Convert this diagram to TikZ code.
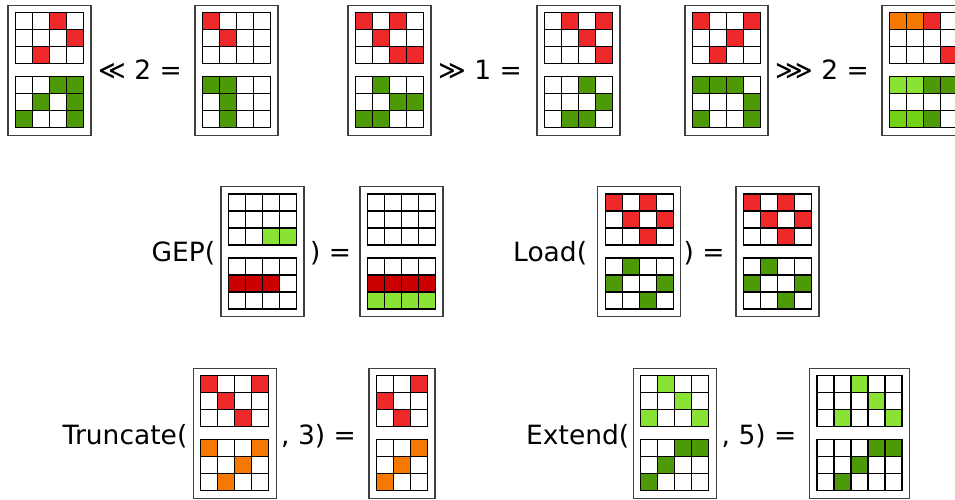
\documentclass[tikz,border=0pt]{standalone}
\usepackage{fontspec}
\setmainfont{DejaVu Sans}
\definecolor{cw}{HTML}{FFFFFF}
\definecolor{cr}{HTML}{EF2929}
\definecolor{cd}{HTML}{CC0000}
\definecolor{cg}{HTML}{4E9A06}
\definecolor{cl}{HTML}{8AE234}
\definecolor{cm}{HTML}{73D216}
\definecolor{co}{HTML}{F57900}
\tikzset{
  cell/.style={draw=black, line width=1.1pt},
  cardframe/.style={draw=black!75, line width=1.2pt},
  lbl/.style={anchor=base west, inner sep=0pt, font=\fontsize{26.5}{31}\selectfont}
}
\newcommand\cellgrid[4]{%
  \foreach \clr [count=\k from 0] in {#4} {
    \pgfmathtruncatemacro\rr{floor(\k/#3)}
    \pgfmathtruncatemacro\cc{mod(\k,#3)}
    \filldraw[cell, fill=c\clr] ({#1+17*\cc},{#2+17*\rr}) rectangle ++(17,17);
  }}
\newcommand\bitcard[5]{%
  \draw[cardframe] (#1,#2) rectangle ++({17*#3+15},130);
  \cellgrid{#1+7.5}{#2+7.5}{#3}{#4}
  \cellgrid{#1+7.5}{#2+71.5}{#3}{#5}}
\begin{document}
\begin{tikzpicture}[x=1pt,y=-1pt]
\clip (0,0) rectangle (955,499);
\fill[white] (0,0) rectangle (955,499);
% Row 1
\bitcard{8}{5.3}{4}{w,w,r,w, w,w,w,r, w,r,w,w}{w,w,g,g, w,g,w,g, g,w,w,g}
\node[lbl] (t1) at (98,79.5) {≪ 2 =};
\bitcard{195}{5.3}{4}{r,w,w,w, w,r,w,w, w,w,w,w}{g,g,w,w, w,g,w,w, w,g,w,w}
\bitcard{348}{5.3}{4}{r,w,r,w, w,r,w,w, w,w,r,r}{w,g,w,w, w,w,g,g, g,g,w,w}
\node[lbl] (t2) at (438,79.5) {≫ 1 =};
\bitcard{537}{5.3}{4}{w,r,w,r, w,w,r,w, w,w,w,r}{w,w,g,w, w,w,w,g, w,g,g,w}
\bitcard{685}{5.3}{4}{r,w,w,r, w,w,r,w, w,r,w,w}{g,g,g,w, w,w,w,g, g,w,w,g}
\node[lbl] (t3) at (775,79.5) {⋙ 2 =};
\bitcard{882}{5.3}{4}{o,o,r,w, w,w,w,w, w,w,w,r}{l,l,g,g, w,w,w,w, m,m,g,w}
% Row 2
\node[lbl] (t4) at (151.5,261) {GEP(};
\bitcard{221}{186.5}{4}{w,w,w,w, w,w,w,w, w,w,l,l}{w,w,w,w, d,d,d,w, w,w,w,w}
\node[lbl] (t5) at (310,261) {) =};
\bitcard{360}{186.5}{4}{w,w,w,w, w,w,w,w, w,w,w,w}{w,w,w,w, d,d,d,d, l,l,l,l}
\node[lbl] (t6) at (513,261) {Load(};
\bitcard{597.7}{186.5}{4}{r,w,r,w, w,r,w,r, w,w,r,w}{w,g,w,w, g,w,w,g, w,w,g,w}
\node[lbl] (t7) at (683.5,261) {) =};
\bitcard{736}{186.5}{4}{r,w,r,w, w,r,w,r, w,w,r,w}{w,g,w,w, g,w,w,g, w,w,g,w}
% Row 3
\node[lbl] (t8) at (62.5,444) {Truncate(};
\bitcard{193.3}{368.3}{4}{r,w,w,r, w,r,w,w, w,w,r,w}{o,w,w,o, w,w,o,w, w,o,w,w}
\node[lbl] (t9) at (281,444) {, 3) =};
\bitcard{369}{368.3}{3}{w,w,r, r,w,w, w,r,w}{w,w,o, w,o,w, o,w,w}
\node[lbl] (t10) at (526,444) {Extend(};
\bitcard{633.3}{368.3}{4}{w,l,w,w, w,w,l,w, l,w,w,l}{w,w,g,g, w,g,w,w, g,w,w,w}
\node[lbl] (t11) at (721.5,444) {, 5) =};
\bitcard{809.5}{368.3}{5}{w,w,l,w,w, w,w,w,l,w, w,l,w,w,l}{w,w,w,g,g, w,w,g,w,w, w,g,w,w,w}
\end{tikzpicture}
\end{document}
